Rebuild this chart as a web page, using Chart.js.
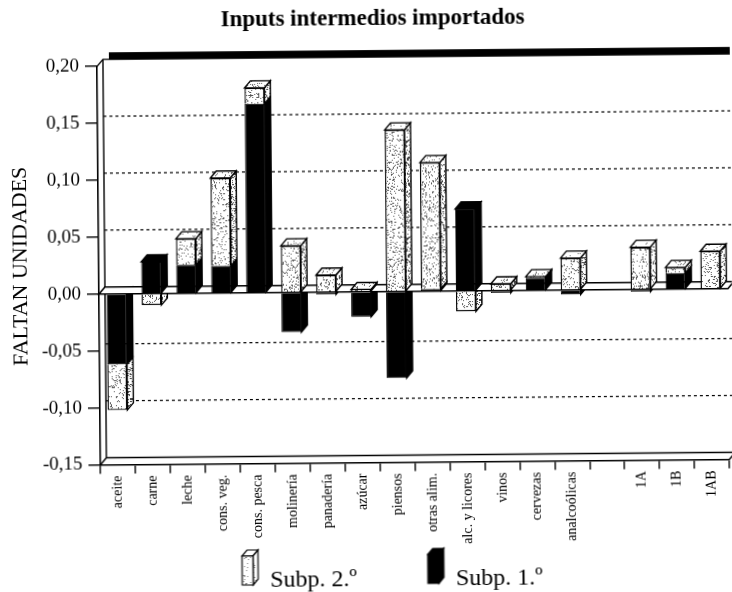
<!DOCTYPE html>
<html>
<head>
<meta charset="utf-8">
<title>Inputs intermedios importados</title>
<script src="https://cdn.jsdelivr.net/npm/chart.js@4"></script>
<style>
    html, body { margin: 0; background: #fff; overflow: hidden; }
    /* la pagina escaneada esta algo girada */
    canvas { display: block; transform: rotate(-0.5deg); }
</style>
</head>
<body>
<canvas id="inputsChart" width="732" height="592"></canvas>
<script>
const categories = ['aceite', 'carne', 'leche', 'cons. veg.', 'cons. pesca', 'molinería', 'panadería', 'azúcar',
    'piensos', 'otras alim.', 'alc. y licores', 'vinos', 'cervezas', 'analcoólicas', '', '1A', '1B', '1AB'];
const subp1 = [-0.062, 0.028, 0.025, 0.024, 0.166, -0.035, -0.002, -0.022,
    -0.076, 0.002, 0.072, -0.002, 0.011, -0.004, null, -0.002, 0.014, null];
const subp2 = [-0.040, -0.010, 0.023, 0.077, 0.014, 0.041, 0.015, 0.002,
    0.142, 0.111, -0.018, 0.006, 0.001, 0.028, null, 0.037, 0.005, 0.033];
const yTicks = [-0.15, -0.10, -0.05, 0, 0.05, 0.10, 0.15, 0.20];

const SERIF = '"Liberation Serif", serif';
const DEPTH_X = 6;
const DEPTH_Y = 7;

// textura punteada de las barras claras (solo relleno, nada de datos)
function stipple(density, dark) {
    const c = document.createElement('canvas');
    c.width = 97;
    c.height = 97;
    const g = c.getContext('2d');
    g.fillStyle = '#fff';
    g.fillRect(0, 0, 97, 97);
    g.fillStyle = dark;
    let seed = 4711;
    for (let y = 0; y < 97; y += 1) {
        for (let x = 0; x < 97; x += 1) {
            seed = (seed * 16807) % 2147483647;
            if (seed % 100 < density) {
                g.fillRect(x, y, 1, 1);
            }
        }
    }
    return c;
}
const ctx = document.getElementById('inputsChart').getContext('2d');
const lightFront = ctx.createPattern(stipple(14, '#555'), 'repeat');
const lightSide = ctx.createPattern(stipple(24, '#444'), 'repeat');
const lightTop = ctx.createPattern(stipple(8, '#666'), 'repeat');

function poly(g, pts, fill) {
    g.beginPath();
    pts.forEach((p, i) => i ? g.lineTo(p[0], p[1]) : g.moveTo(p[0], p[1]));
    g.closePath();
    g.fillStyle = fill;
    g.fill();
    g.stroke();
}

// icono de la leyenda: una barrita en 3D, subida respecto al texto
function legendIcon(front, side, top) {
    const c = document.createElement('canvas');
    c.width = 20;
    c.height = 66;
    const g = c.getContext('2d');
    g.lineWidth = 1.2;
    g.strokeStyle = '#000';
    poly(g, [[2, 8], [7, 2], [18, 2], [13, 8]], top);
    poly(g, [[13, 8], [18, 2], [18, 31], [13, 37]], side);
    poly(g, [[2, 8], [13, 8], [13, 37], [2, 37]], front);
    return c;
}
const iconFill = ctx.createPattern(stipple(7, '#777'), 'repeat');
const legendIcons = [
    legendIcon('#000', '#000', '#000'),
    legendIcon(iconFill, iconFill, '#fff')
];

// paredes, suelo y rejilla de fondo + caras laterales de las barras
const box3d = {
    id: 'box3d',
    beforeLayout(chart) {
        // la leyenda va bajo las etiquetas, no debe restar sitio al grafico
        const legend = chart.legend;
        if (!legend.fitOriginal) {
            legend.fitOriginal = legend.fit;
            legend.fit = function () {
                this.fitOriginal();
                this.height = 0;
            };
        }
    },
    afterLayout(chart) {
        // ni el titulo ni la leyenda van centrados en el original
        chart.titleBlock.left += 8;
        chart.titleBlock.right += 8;
        const legend = chart.legend;
        legend.left = 48;
        legend.right = 732;
        legend.top = 568 - legend.options.labels.padding;
        legend.bottom = 610;
    },
    beforeDatasetsDraw(chart) {
        const g = chart.ctx;
        const { left, right, top, bottom } = chart.chartArea;
        const y = chart.scales.y;
        const zero = y.getPixelForValue(0);
        g.save();
        g.strokeStyle = '#000';
        g.lineWidth = 1.4;

        // pared izquierda y fondo
        g.beginPath();
        g.moveTo(left, top);
        g.lineTo(left + DEPTH_X, top - DEPTH_Y);
        g.lineTo(right + DEPTH_X, top - DEPTH_Y);
        g.moveTo(left + DEPTH_X, top - DEPTH_Y);
        g.lineTo(left + DEPTH_X, bottom - DEPTH_Y);
        g.lineTo(right + DEPTH_X, bottom - DEPTH_Y);
        g.lineTo(right, bottom);
        g.moveTo(left, bottom);
        g.lineTo(left + DEPTH_X, bottom - DEPTH_Y);
        g.moveTo(right + DEPTH_X, top - DEPTH_Y);
        g.lineTo(right + DEPTH_X, bottom - DEPTH_Y);
        g.stroke();

        // banda negra superior
        g.fillStyle = '#000';
        g.fillRect(left + DEPTH_X + 6, top - DEPTH_Y - 7, right - left + 6, 7);

        // rejilla punteada en la pared del fondo
        g.save();
        g.lineWidth = 1.2;
        g.setLineDash([3, 3]);
        y.ticks.forEach(t => {
            if (t.value === 0 || t.value === yTicks[0] || t.value === yTicks[yTicks.length - 1]) return;
            const py = y.getPixelForValue(t.value) - DEPTH_Y;
            g.beginPath();
            g.moveTo(left + DEPTH_X, py);
            g.lineTo(right + DEPTH_X, py);
            g.stroke();
        });
        g.restore();

        const metas = [chart.getDatasetMeta(0), chart.getDatasetMeta(1)];
        const sideOf = i => (i === 0 ? '#000' : lightSide);
        const topOf = i => (i === 0 ? '#000' : lightTop);

        // primero los lados de lo negativo, el suelo los tapa
        metas.forEach((meta, i) => meta.data.forEach(el => {
            const b = el.getProps(['x', 'y', 'base', 'width'], true);
            if (isNaN(b.y) || b.y <= zero) return;
            const r = b.x + b.width / 2;
            poly(g, [[r, b.base], [r + DEPTH_X, b.base - DEPTH_Y], [r + DEPTH_X, b.y - DEPTH_Y], [r, b.y]], sideOf(i));
        }));

        // suelo en el cero
        g.lineWidth = 1.6;
        poly(g, [[left, zero], [left + DEPTH_X, zero - DEPTH_Y], [right + DEPTH_X, zero - DEPTH_Y], [right, zero]], '#fff');

        // ahora lo positivo, de abajo arriba
        metas.forEach((meta, i) => meta.data.forEach((el, k) => {
            const b = el.getProps(['x', 'y', 'base', 'width'], true);
            if (isNaN(b.y) || b.y >= zero) return;
            const l = b.x - b.width / 2;
            const r = b.x + b.width / 2;
            g.lineWidth = 1.4;
            poly(g, [[r, b.base], [r + DEPTH_X, b.base - DEPTH_Y], [r + DEPTH_X, b.y - DEPTH_Y], [r, b.y]], sideOf(i));
            const other = i === 0 ? subp2[k] : null;
            if (!(other > 0)) {
                poly(g, [[l, b.y], [l + DEPTH_X, b.y - DEPTH_Y], [r + DEPTH_X, b.y - DEPTH_Y], [r, b.y]], topOf(i));
            }
        }));
        g.restore();
    }
};

new Chart(ctx, {
    type: 'bar',
    data: {
        labels: categories,
        datasets: [
            { label: 'Subp. 1.º', data: subp1, backgroundColor: '#000', borderColor: '#000', borderWidth: 1 },
            { label: 'Subp. 2.º', data: subp2, backgroundColor: lightFront, borderColor: '#000', borderWidth: 1.4 }
        ]
    },
    options: {
        responsive: false,
        animation: false,
        barPercentage: 0.57,
        categoryPercentage: 1,
        layout: { padding: { top: 5, left: 6, right: 4, bottom: 2 } },
        plugins: {
            tooltip: { enabled: false },
            title: {
                display: true,
                text: 'Inputs intermedios importados',
                color: '#000',
                font: { family: SERIF, size: 23, weight: 'bold' },
                padding: { top: 0, bottom: 31.5 }
            },
            legend: {
                position: 'bottom',
                reverse: true,
                labels: {
                    color: '#000',
                    font: { family: SERIF, size: 24 },
                    usePointStyle: true,
                    pointStyleWidth: 16,
                    padding: 71,
                    generateLabels: chart => chart.data.datasets.map((ds, i) => ({
                        text: ds.label,
                        datasetIndex: i,
                        pointStyle: legendIcons[i],
                        fontColor: '#000',
                        lineWidth: 0
                    }))
                }
            }
        },
        scales: {
            x: {
                stacked: true,
                afterFit: scale => { scale.height = 127.5; },
                grid: { offset: true, drawOnChartArea: false, tickLength: 9, color: '#000', lineWidth: 1.4 },
                border: { color: '#000', width: 1.6 },
                ticks: {
                    color: '#000',
                    font: { family: SERIF, size: 14 },
                    minRotation: 90,
                    maxRotation: 90,
                    autoSkip: false,
                    padding: 2
                }
            },
            y: {
                stacked: true,
                min: yTicks[0],
                max: yTicks[yTicks.length - 1],
                afterFit: scale => { scale.width = 93; },
                afterBuildTicks: scale => { scale.ticks = yTicks.map(v => ({ value: v })); },
                grid: { drawOnChartArea: false, tickLength: 12, color: '#000', lineWidth: 1.4 },
                border: { color: '#000', width: 1.6 },
                ticks: {
                    color: '#000',
                    font: { family: SERIF, size: 19 },
                    padding: 6,
                    callback: v => v.toFixed(2).replace('.', ',')
                },
                title: {
                    display: true,
                    text: 'FALTAN UNIDADES',
                    color: '#000',
                    font: { family: SERIF, size: 22 },
                    padding: { top: 2, bottom: 0 }
                }
            }
        }
    },
    plugins: [box3d]
});
</script>
</body>
</html>
